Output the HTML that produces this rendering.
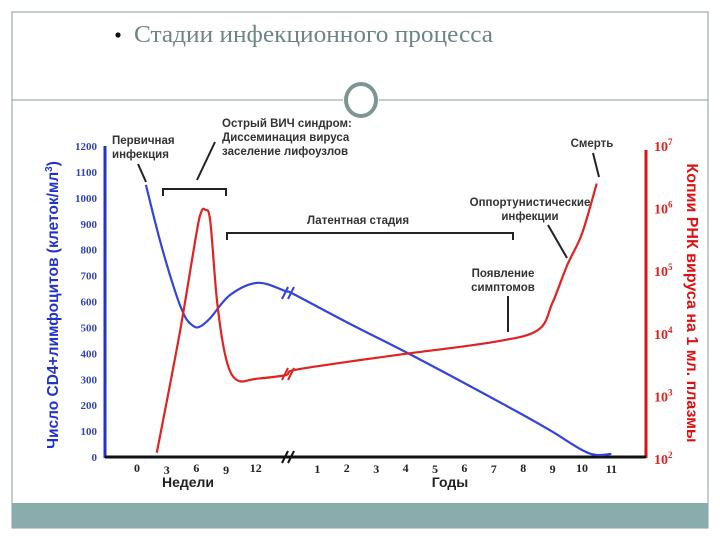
<!DOCTYPE html>
<html><head><meta charset="utf-8"><style>
body{margin:0;width:720px;height:540px;background:#fff;overflow:hidden;position:relative;font-family:"Liberation Sans","Noto Sans CJK SC",sans-serif}
</style></head><body>
<svg width="720" height="540" xmlns="http://www.w3.org/2000/svg" style="position:absolute;left:0;top:0">
<rect x="12" y="12" width="696" height="516" fill="#fff" stroke="#8a9a9a" stroke-width="1"/>
<rect x="12" y="503" width="696" height="25" fill="#8aacac"/>
<circle cx="118" cy="35" r="2.6" fill="#111"/>
<text x="134" y="42" font-family="Liberation Serif,serif" font-size="24" fill="#6f8585" textLength="359" lengthAdjust="spacingAndGlyphs">Стадии инфекционного процесса</text>
<line x1="12" y1="100" x2="343" y2="100" stroke="#8a9a9a"/>
<line x1="379" y1="100" x2="708" y2="100" stroke="#8a9a9a"/>
<ellipse cx="361" cy="100" rx="15" ry="16" fill="none" stroke="#7c9696" stroke-width="4"/>
<g id="chart"></g>
</svg>
<script>
const weekTicks=[0,3,6,9,12];
const yearTicks=[1,2,3,4,5,6,7,8,9,10,11];
const cd4Ticks=[0,100,200,300,400,500,600,700,800,900,1000,1100,1200];
const rnaTicks=[2,3,4,5,6,7];
const cd4WeekT=[0.9,2.3,3.8,4.8,5.6,6.3,7.4,9.4,12.2,15];
const cd4WeekV=[1050,838,645,545,508,502,536,625,672,640];
const cd4YearT=[0.2,2,4,6,8,9,10,10.5,11];
const cd4YearV=[628,520,405,285,162,97,27,8,12];
const rnaWeekT=[2,4.3,6,6.5,6.9,7.4,8.1,9,10.1,12,15];
const rnaWeekV=[2.1,4.0,5.6,5.95,5.98,5.8,4.5,3.6,3.26,3.28,3.34];
const rnaYearT=[0.2,2,4,7,8.5,9,9.5,10,10.5];
const rnaYearV=[3.42,3.55,3.68,3.87,4.06,4.5,5.1,5.6,6.4];

const NS='http://www.w3.org/2000/svg';
const g=document.getElementById('chart');
const X0=105,X1=646,Y0=457,Ytop=146;
const xw=w=>137+w*9.9;
const xy=y=>288+y*29.4;
const ycd=v=>Y0-v*(Y0-Ytop)/1200;
const yrna=l=>459-(l-2)*(459-146)/5;
function el(t,a,parent){const e=document.createElementNS(NS,t);for(const k in a)e.setAttribute(k,a[k]);(parent||g).appendChild(e);return e;}
function txt(x,y,s,a){const e=el('text',Object.assign({x:x,y:y},a));e.textContent=s;return e;}
function smooth(p){let d='M'+p[0][0]+','+p[0][1];for(let i=0;i<p.length-1;i++){const p0=p[i-1]||p[i],p1=p[i],p2=p[i+1],p3=p[i+2]||p2;d+=' C'+(p1[0]+(p2[0]-p0[0])/6)+','+(p1[1]+(p2[1]-p0[1])/6)+' '+(p2[0]-(p3[0]-p1[0])/6)+','+(p2[1]-(p3[1]-p1[1])/6)+' '+p2[0]+','+p2[1];}return d;}

let a=el('line',{x1:X0,y1:Ytop,x2:X0,y2:Y0+1,stroke:'#2233cc','stroke-width':3});


a=el('line',{x1:X1,y1:150,x2:X1,y2:Y0+1,stroke:'#dd1111','stroke-width':3});


a=el('line',{x1:X0,y1:Y0,x2:X1,y2:Y0,stroke:'#111','stroke-width':3});



cd4Ticks.forEach(v=>{const t=txt(97,ycd(v)+4,String(v),{'font-family':'Liberation Serif,serif','font-size':11,'font-weight':'bold',fill:'#3344bb','text-anchor':'end'});

});
rnaTicks.forEach(l=>{const t=el('text',{x:654,y:yrna(l)+5,'font-family':'Liberation Serif,serif','font-size':14,'font-weight':'bold',fill:'#dd2222'});t.innerHTML='10<tspan dy="-6" font-size="9">'+l+'</tspan>';

});
weekTicks.forEach((w,i)=>{const t=txt(xw(w),472+(i%2?2:0),String(w),{'font-family':'Liberation Serif,serif','font-size':12,'font-weight':'bold',fill:'#222','text-anchor':'middle'});

});
yearTicks.forEach((y,i)=>{const t=txt(xy(y),472+(i%2?0:1),String(y),{'font-family':'Liberation Serif,serif','font-size':12,'font-weight':'bold',fill:'#222','text-anchor':'middle'});

});
a=txt(188,487,'Недели',{'font-size':14,'font-weight':'bold',fill:'#222','text-anchor':'middle'});


a=txt(450,487,'Годы',{'font-size':14,'font-weight':'bold',fill:'#222','text-anchor':'middle'});


a=el('text',{x:0,y:0,transform:'translate(58,305) rotate(-90)','font-size':15.5,'font-weight':'bold',fill:'#2233cc','text-anchor':'middle'});
a.innerHTML='Число CD4+лимфоцитов (клеток/мл<tspan dy="-6" font-size="10">3</tspan><tspan dy="6">)</tspan>';


a=txt(0,0,'Копии РНК вируса на 1 мл. плазмы',{transform:'translate(687,303) rotate(90)','font-size':16,'font-weight':'bold',fill:'#dd1111','text-anchor':'middle'});



const cd4Pts=cd4WeekT.map((t,i)=>[xw(t),ycd(cd4WeekV[i])]).concat(cd4YearT.map((t,i)=>[xy(t),ycd(cd4YearV[i])]));
const rnaPts=rnaWeekT.map((t,i)=>[xw(t),yrna(rnaWeekV[i])]).concat(rnaYearT.map((t,i)=>[xy(t),yrna(rnaYearV[i])]));
a=el('path',{d:smooth(cd4Pts),fill:'none',stroke:'#3344dd','stroke-width':2.2});


a=el('path',{d:smooth(rnaPts),fill:'none',stroke:'#e02222','stroke-width':2.2});



[[289,457,'#111'],[289,293,'#3344dd'],[289,374,'#e02222']].forEach(b=>{
 const m=el('path',{d:'M'+(b[0]-7)+','+(b[1]+6)+' L'+(b[0]-1)+','+(b[1]-6)+' M'+(b[0]-1)+','+(b[1]+6)+' L'+(b[0]+5)+','+(b[1]-6),stroke:b[2],'stroke-width':2,fill:'none'});
 
 
});

const ann={'font-size':11.5,'font-weight':'bold',fill:'#333'};
function note(lines,x,y,anchor,name){lines.forEach((s,i)=>{const t=txt(x,y+i*14,s,Object.assign({'text-anchor':anchor},ann));

});}
note(['Первичная','инфекция'],112,144,'start','primary-infection-note');
note(['Острый ВИЧ синдром:','Диссеминация вируса','заселение лифоузлов'],222,127,'start','acute-syndrome-note');
note(['Латентная стадия'],358,224,'middle','latent-stage-note');
note(['Смерть'],592,147,'middle','death-note');
note(['Оппортунистические','инфекции'],530,206,'middle','opportunistic-note');
note(['Появление','симптомов'],503,277,'middle','symptoms-note');
[['M138,164 L146,182','primary-pointer'],['M215,142 L197,180','acute-pointer'],['M593,153 L599,177','death-pointer'],['M548,225 L567,258','opportunistic-pointer'],['M508,296 L508,332','symptoms-pointer'],
 ['M163,196 V189 H226 V196','acute-bracket'],['M227,240 V233 H513 V240','latent-bracket']].forEach(p=>{
 const l=el('path',{d:p[0],stroke:'#222','stroke-width':2,fill:'none'});
 
 
});
</script>
</body></html>
